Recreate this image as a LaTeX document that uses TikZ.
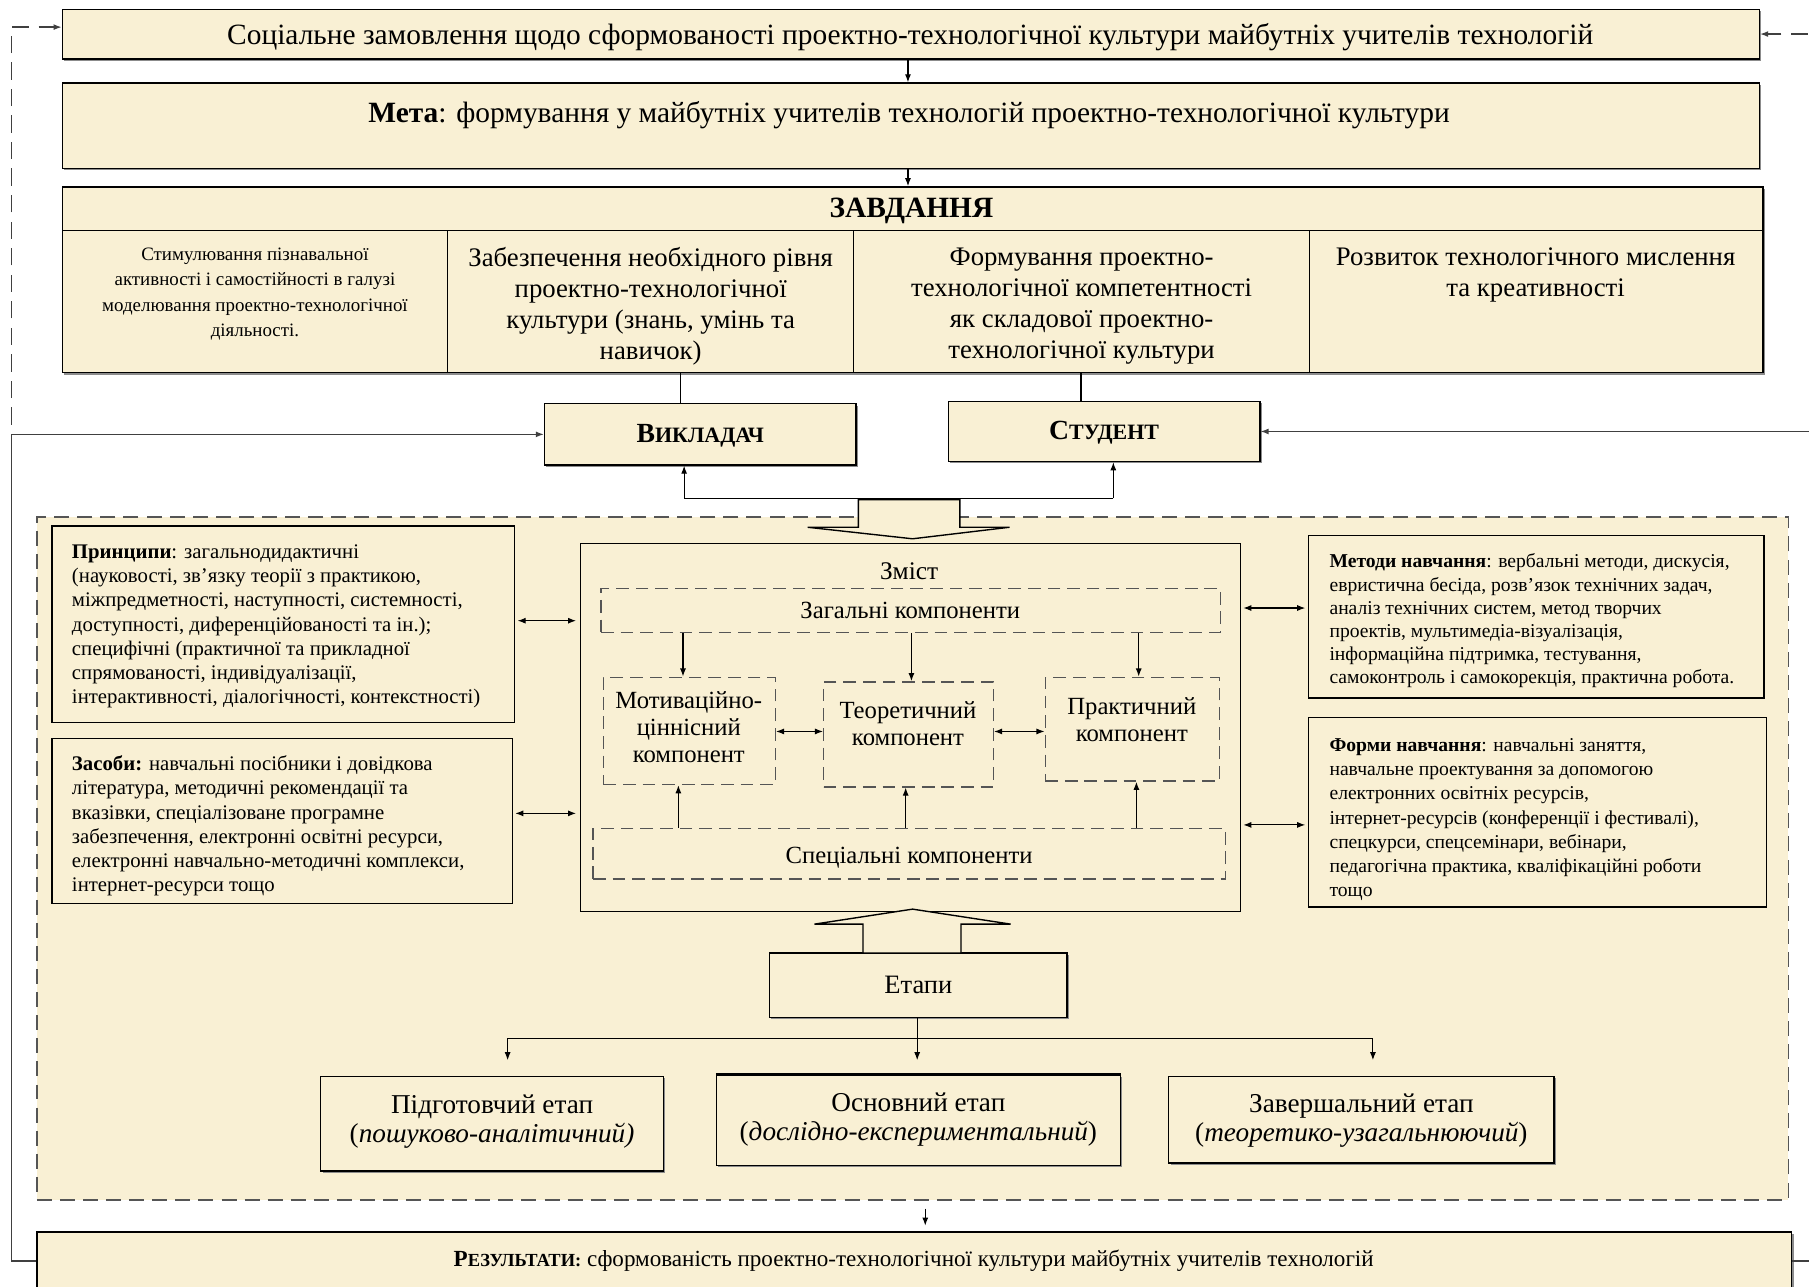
\documentclass[tikz,border=0pt]{standalone}
\usepackage{fontspec}
\setmainfont{Liberation Serif}
\usetikzlibrary{arrows.meta,fit,shadows}
\definecolor{parch}{RGB}{249,240,212}
\definecolor{dashgray}{RGB}{85,85,85}
\newcommand\szTop{\fontsize{12.75pt}{15pt}\selectfont}
\newcommand\szTask{\fontsize{11.6pt}{13.5pt}\selectfont}
\newcommand\szTaskA{\fontsize{8.2pt}{11pt}\selectfont}
\newcommand\szPrin{\fontsize{9pt}{10.5pt}\selectfont}
\newcommand\szMet{\fontsize{8.5pt}{10pt}\selectfont}
\newcommand\szForm{\fontsize{8.5pt}{10.5pt}\selectfont}
\newcommand\szZm{\fontsize{11pt}{13pt}\selectfont}
\newcommand\szComp{\fontsize{10.7pt}{11.75pt}\selectfont}
\newcommand\szEt{\fontsize{11.5pt}{13pt}\selectfont}
\newcommand\szSt{\fontsize{11.8pt}{12.5pt}\selectfont}
\newcommand\szRes{\fontsize{10pt}{12pt}\selectfont}
\newcommand\szPers{\fontsize{12pt}{14pt}\selectfont}
\newcommand\scPers{\fontsize{9.5pt}{11pt}\selectfont}
\newcommand\scRes{\fontsize{8pt}{10pt}\selectfont}
\begin{document}
\begin{tikzpicture}[x=0.5pt,y=-0.5pt,
  box/.style={draw=black,line width=0.6pt,fill=parch,inner sep=0pt},
  sbox/.style={box,drop shadow={shadow xshift=0.8pt,shadow yshift=-0.8pt,fill=black!45,opacity=1}},
  dbox/.style={draw=dashgray,line width=0.6pt,dash pattern=on 5.5pt off 3pt,inner sep=0pt},
  regionbox/.style={draw=dashgray,line width=0.6pt,dash pattern=on 6.5pt off 3.5pt,fill=parch,inner sep=0pt},
  txt/.style={inner sep=0pt,align=center,yshift=-1pt},
  ltxt/.style={inner sep=0pt,align=left,anchor=west,yshift=-1pt},
  arrowend/.style={-{Latex[length=3.5pt,width=2.6pt]}},
  conn/.style={line width=0.5pt,arrowend},
  biconn/.style={line width=0.5pt,{Latex[length=3.5pt,width=2.6pt]}-{Latex[length=3.5pt,width=2.6pt]}},
  plainline/.style={line width=0.5pt},
  fbline/.style={line width=0.6pt,draw=black!75},
  fbdash/.style={line width=0.6pt,draw=black!75,dash pattern=on 7.5pt off 4pt},
  blockarrow/.style={draw=black,line width=0.6pt,fill=parch},
]
\useasboundingbox (0,0) rectangle (1568,1115);
\fill[white] (0,0) rectangle (1568,1115);
\clip (0,0) rectangle (1568,1115);

% ---------- big dashed region ----------
\node[regionbox,fit={(32,448)(1550,1040)}] (region) {};

% ---------- top part ----------
\node[sbox,fit={(54,8)(1525,51)}] (soc) {};
\node[txt,font=\szTop] (soc-t) at (789,30) {Соціальне замовлення щодо сформованості проектно-технологічної культури майбутніх учителів технологій};

\node[sbox,fit={(54,72)(1525,146)}] (meta) {};
\node[txt,font=\szTop] (meta-t) at (788,98) {\textbf{Мета}: формування у майбутніх учителів технологій проектно-технологічної культури};

\node[sbox,fit={(54,162)(1528,200)}] (zavd) {};
\node[txt,font=\szTop\bfseries] (zavd-t) at (790,181) {ЗАВДАННЯ};

\node[sbox,fit={(54,200)(388,323)}] (tA) {};
\node[sbox,fit={(388,200)(740,323)}] (tB) {};
\node[sbox,fit={(740,200)(1135,323)}] (tC) {};
\node[sbox,fit={(1135,200)(1528,323)}] (tD) {};
\node[txt,font=\szTaskA] (tA-t) at (221,253) {Стимулювання пізнавальної\\активності і самостійності в галузі\\моделювання проектно-технологічної\\діяльності.};
\node[txt,font=\szTask] (tB-t) at (564,263.5) {Забезпечення необхідного рівня\\проектно-технологічної\\культури (знань, умінь та\\навичок)};
\node[txt,font=\szTask] (tC-t) at (937.5,263.5) {Формування проектно-\\технологічної компетентності\\як складової проектно-\\технологічної культури};
\node[txt,font=\szTask] (tD-t) at (1331,236.5) {Розвиток технологічного мислення\\та креативності};

\node[sbox,fit={(472,350)(742,403)}] (vyk) {};
\node[txt,font=\szPers\bfseries] (vyk-t) at (607,376) {В{\scPers ИКЛАДАЧ}};
\node[sbox,fit={(822,348)(1092,400)}] (stud) {};
\node[txt,font=\szPers\bfseries] (stud-t) at (957,373) {С{\scPers ТУДЕНТ}};

% connectors top
\draw[conn] (soc.south -| 787,0) -- (meta.north -| 787,0);
\draw[conn] (meta.south -| 787,0) -- (zavd.north -| 787,0);
\draw[plainline] (tB.south -| 590,0) -- (vyk.north -| 590,0);
\draw[plainline] (tC.south -| 937,0) -- (stud.north -| 937,0);

% feedback lines (top, dashed)
\coordinate (lx) at (10,0);
\coordinate (rx) at (1590,0);
\coordinate (dstart) at (10,368);
\draw[fbdash,arrowend] (dstart) |- ([yshift=3pt]soc.west);
\draw[fbdash,arrowend] (soc.east -| rx) -- (soc.east);

% ---------- under persons ----------
\coordinate (hl) at (593,432);
\coordinate (hr) at (965,432);
\draw[plainline] (hl) -- (hr);
\draw[conn] (hl) -- (hl |- vyk.south);
\draw[conn] (hr) -- (hr |- stud.south);
\draw[blockarrow] (744,433) -- (832,433) -- (832,457) -- (875,457) -- (791,467) -- (700,457) -- (744,457) -- cycle;

% ---------- side boxes ----------
\node[box,fit={(45,456)(446,626)}] (prin) {};
\node[ltxt,font=\szPrin] (prin-t) at (62,541) {\textbf{Принципи}: загальнодидактичні\\(науковості, зв’язку теорії з практикою,\\міжпредметності, наступності, системності,\\доступності, диференційованості та ін.);\\специфічні (практичної та прикладної\\спрямованості, індивідуалізації,\\інтерактивності, діалогічності, контекстності)};
\node[box,fit={(45,640)(444,783)}] (zas) {};
\node[ltxt,font=\szPrin] (zas-t) at (62,714) {\textbf{Засоби:} навчальні посібники і довідкова\\література, методичні рекомендації та\\вказівки, спеціалізоване програмне\\забезпечення, електронні освітні ресурси,\\електронні навчально-методичні комплекси,\\інтернет-ресурси тощо};
\node[box,fit={(1134,464)(1529,605)}] (met) {};
\node[ltxt,font=\szMet] (met-t) at (1152,536) {\textbf{Методи навчання}: вербальні методи, дискусія,\\евристична бесіда, розв’язок технічних задач,\\аналіз технічних систем, метод творчих\\проектів, мультимедіа-візуалізація,\\інформаційна підтримка, тестування,\\самоконтроль і самокорекція, практична робота.};
\node[box,fit={(1134,622)(1531,786)}] (form) {};
\node[ltxt,font=\szForm] (form-t) at (1152,708.5) {\textbf{Форми навчання}: навчальні заняття,\\навчальне проектування за допомогою\\електронних освітніх ресурсів,\\інтернет-ресурсів (конференції і фестивалі),\\спецкурси, спецсемінари, вебінари,\\педагогічна практика, кваліфікаційні роботи\\тощо};

% ---------- content ----------
\node[box,fit={(503,471)(1075,790)}] (zmist) {};
\node[txt,font=\szZm] (zmist-t) at (788,493) {Зміст};
\node[dbox,fit={(521,510)(1058,548)}] (zag) {};
\node[txt,font=\szComp] (zag-t) at (789,527) {Загальні компоненти};
\node[dbox,fit={(523,587)(672,680)}] (mot) {};
\node[txt,font=\szComp] (mot-t) at (597,628) {Мотиваційно-\\ціннісний\\компонент};
\node[dbox,fit={(714,591)(861,682)}] (teor) {};
\node[txt,font=\szComp] (teor-t) at (787,625) {Теоретичний\\компонент};
\node[dbox,fit={(906,587)(1057,677)}] (prak) {};
\node[txt,font=\szComp] (prak-t) at (981,622) {Практичний\\компонент};
\node[dbox,fit={(514,718)(1062,762)}] (spec) {};
\node[txt,font=\szComp] (spec-t) at (788,741) {Спеціальні компоненти};

\draw[conn] (zag.south -| 592,0) -- (mot.north -| 592,0);
\draw[conn] (zag.south -| 790,0) -- (teor.north -| 790,0);
\draw[conn] (zag.south -| 987,0) -- (prak.north -| 987,0);
\draw[biconn] (mot.east |- 0,634) -- (teor.west |- 0,634);
\draw[biconn] (teor.east |- 0,634) -- (prak.west |- 0,634);
\draw[conn] (spec.north -| 588,0) -- (mot.south -| 588,0);
\draw[conn] (spec.north -| 785,0) -- (teor.south -| 785,0);
\draw[conn] (spec.north -| 985,0) -- (prak.south -| 985,0);

\draw[biconn,shorten <=1pt,shorten >=1.5pt] (prin.east |- 0,538) -- (zmist.west |- 0,538);
\draw[biconn,shorten <=1pt,shorten >=1.5pt] (zas.east |- 0,705) -- (zmist.west |- 0,705);
\draw[biconn,shorten <=1pt,shorten >=1pt] (zmist.east |- 0,527) -- (met.west |- 0,527);
\draw[biconn,shorten <=1pt,shorten >=1pt] (zmist.east |- 0,715) -- (form.west |- 0,715);

% ---------- stages ----------
\node[sbox,fit={(667,826)(925,882)}] (etapy) {};
\node[txt,font=\szEt] (etapy-t) at (796,852) {Етапи};
\draw[blockarrow] (748,826) -- (748,801) -- (706,801) -- (791,788) -- (876,801) -- (833,801) -- (833,826) -- cycle;

\node[sbox,fit={(278,933)(575,1015)}] (st1) {};
\node[txt,font=\szSt] (st1-t) at (426.5,970.5) {Підготовчий етап\\(\textit{пошуково-аналітичний)}};
\node[sbox,fit={(621,932)(971,1010)}] (st2) {};
\draw[line width=1.4pt] (st2.north west) -- (st2.north east);
\node[txt,font=\szSt] (st2-t) at (796,968.5) {Основний етап\\(\textit{дослідно-експериментальний})};
\node[sbox,fit={(1013,933)(1347,1008)}] (st3) {};
\node[txt,font=\szSt] (st3-t) at (1180,969.5) {Завершальний етап\\(\textit{теоретико-узагальнюючий})};

\coordinate (brL) at (440,900);
\coordinate (brR) at (1190,900);
\draw[plainline] (brL) -- (brR);
\draw[conn] (etapy.south -| 795,0) -- (795,919);
\draw[conn] (brL) -- (brL |- 0,919);
\draw[conn] (brR) -- (brR |- 0,919);

% ---------- results ----------
\node[sbox,fit={(32,1068)(1553,1118)}] (res) {};
\node[txt,font=\szRes] (res-t) at (792,1091) {\textbf{Р{\scRes ЕЗУЛЬТАТИ:}} сформованість проектно-технологічної культури майбутніх учителів технологій};
\draw[conn,shorten <=3.5pt,shorten >=2.5pt] (region.south -| 802,0) -- (res.north -| 802,0);

\draw[fbline,arrowend] (res.west) -| (vyk.west -| lx) -- (vyk.west);
\draw[fbline,arrowend] (res.east) -| (stud.east -| rx) -- (stud.east);
\end{tikzpicture}
\end{document}
